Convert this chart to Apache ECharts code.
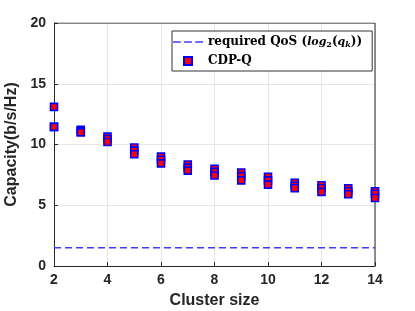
<!DOCTYPE html>
<html><head><meta charset="utf-8">
<script src="https://cdn.jsdelivr.net/npm/echarts@6/dist/echarts.min.js"></script>
<style>html,body{margin:0;padding:0;background:#fff}#c{width:415px;height:311px}</style>
</head><body><div id="c"></div>
<script>
const clusterSizes = [2,3,4,5,6,7,8,9,10,11,12,13,14];
const capHigh = [13.1, 11.2, 10.65, 9.75, 9.0, 8.35, 8.0, 7.7, 7.35, 6.85, 6.65, 6.4, 6.15];
const capMid  = [11.45, 11.1, 10.45, 9.5, 8.75, 8.1, 7.75, 7.4, 7.05, 6.6, 6.4, 6.15, 5.95];
const capLow  = [11.45, 11.0, 10.2, 9.2, 8.45, 7.85, 7.45, 7.05, 6.7, 6.4, 6.1, 5.9, 5.6];
const qosLevel = 1.5;
const xTicks = [2,4,6,8,10,12,14];
const yTicks = [0,5,10,15,20];

const scatterData = [];
clusterSizes.forEach((x,i)=>{ scatterData.push([x,capHigh[i]]); scatterData.push([x,capMid[i]]); scatterData.push([x,capLow[i]]); });
const qosData = [[2,qosLevel],[14,qosLevel]];

const chart = echarts.init(document.getElementById('c'), null, {renderer:'canvas'});
const axisFont = {fontFamily:'Liberation Sans', fontWeight:'bold', fontSize:14, color:'#262626'};
const dashIcon = 'path://M0,0h7v1.4h-7z M10,0h7v1.4h-7z M20,0h7v1.4h-7z';
const squareIcon = 'path://M0,0h10v10h-10z';
chart.setOption({
  animation:false,
  grid:{left:54, right:40, top:23, bottom:45, show:false, outerBoundsMode:'none', containLabel:false},
  legend:{
    orient:'vertical', left:172, top:31, itemGap:6, itemWidth:30, itemHeight:8,
    backgroundColor:'#fff', borderColor:'#333', borderWidth:1, padding:[5,10,4,1],
    symbolKeepAspect:true,
    textStyle:{fontFamily:'DejaVu Serif', fontWeight:'bold', fontSize:12, color:'#000',
      rich:{
        b:{fontFamily:'DejaVu Serif', fontWeight:'bold', fontSize:12, color:'#000'},
        i:{fontFamily:'DejaVu Serif', fontStyle:'italic', fontSize:11, color:'#000'},
        s:{fontFamily:'DejaVu Serif', fontStyle:'normal', fontSize:8, color:'#000', padding:[6,0,0,0]},
        si:{fontFamily:'DejaVu Serif', fontStyle:'italic', fontSize:8, color:'#000', padding:[6,0,0,0]},
        n:{fontFamily:'DejaVu Serif', fontSize:12, color:'#000'}
      }},
    formatter:function(name){
      if(name==='qos') return '{b|required QoS }{n|(}{i|log}{s|2}{n|(}{i|q}{si|k}{n|))}';
      return '{b|CDP-Q}';
    },
    data:[
      {name:'qos', icon:dashIcon, itemStyle:{color:'#3c3cff', borderWidth:0}},
      {name:'cdp', icon:squareIcon, itemStyle:{color:'#ff0000', borderColor:'#0000ff', borderWidth:2}}
    ]
  },
  xAxis:{
    type:'value', min:2, max:14, interval:2,
    name:'Cluster size', nameLocation:'middle', nameGap:27,
    nameTextStyle:{fontFamily:'Liberation Sans', fontWeight:'bold', fontSize:16, color:'#262626'},
    axisLine:{show:true, onZero:false, lineStyle:{color:'#262626', width:1}},
    axisTick:{show:true, inside:true, length:4, lineStyle:{color:'#262626'}},
    axisLabel:Object.assign({margin:7}, axisFont),
    splitLine:{show:true, lineStyle:{color:'#e6e6e6', width:1}}
  },
  yAxis:{
    type:'value', min:0, max:20, interval:5,
    name:'Capacity(b/s/Hz)', nameLocation:'middle', nameGap:24,
    nameTextStyle:{fontFamily:'Liberation Sans', fontWeight:'bold', fontSize:16, color:'#262626'},
    axisLine:{show:true, lineStyle:{color:'#262626', width:1}},
    axisTick:{show:true, inside:true, length:4, lineStyle:{color:'#262626'}},
    axisLabel:Object.assign({margin:8}, axisFont),
    splitLine:{show:true, lineStyle:{color:'#e6e6e6', width:1}}
  },
  series:[
    {name:'qos', type:'line', data:qosData, showSymbol:false, symbol:'none',
     lineStyle:{color:'#3c3cff', width:1.5, type:[7,4]}, itemStyle:{color:'#3c3cff'}, z:3},
    {name:'cdp', type:'scatter', data:scatterData, symbol:'rect', symbolSize:7,
     itemStyle:{color:'#ff0000', borderColor:'#0000ff', borderWidth:1.6, opacity:1}, z:4},
    {type:'line', data:[[2,20],[14,20],[14,0]], symbol:'none', silent:true,
     lineStyle:{color:'#262626', width:1}, z:2}
  ]
});
</script></body></html>
